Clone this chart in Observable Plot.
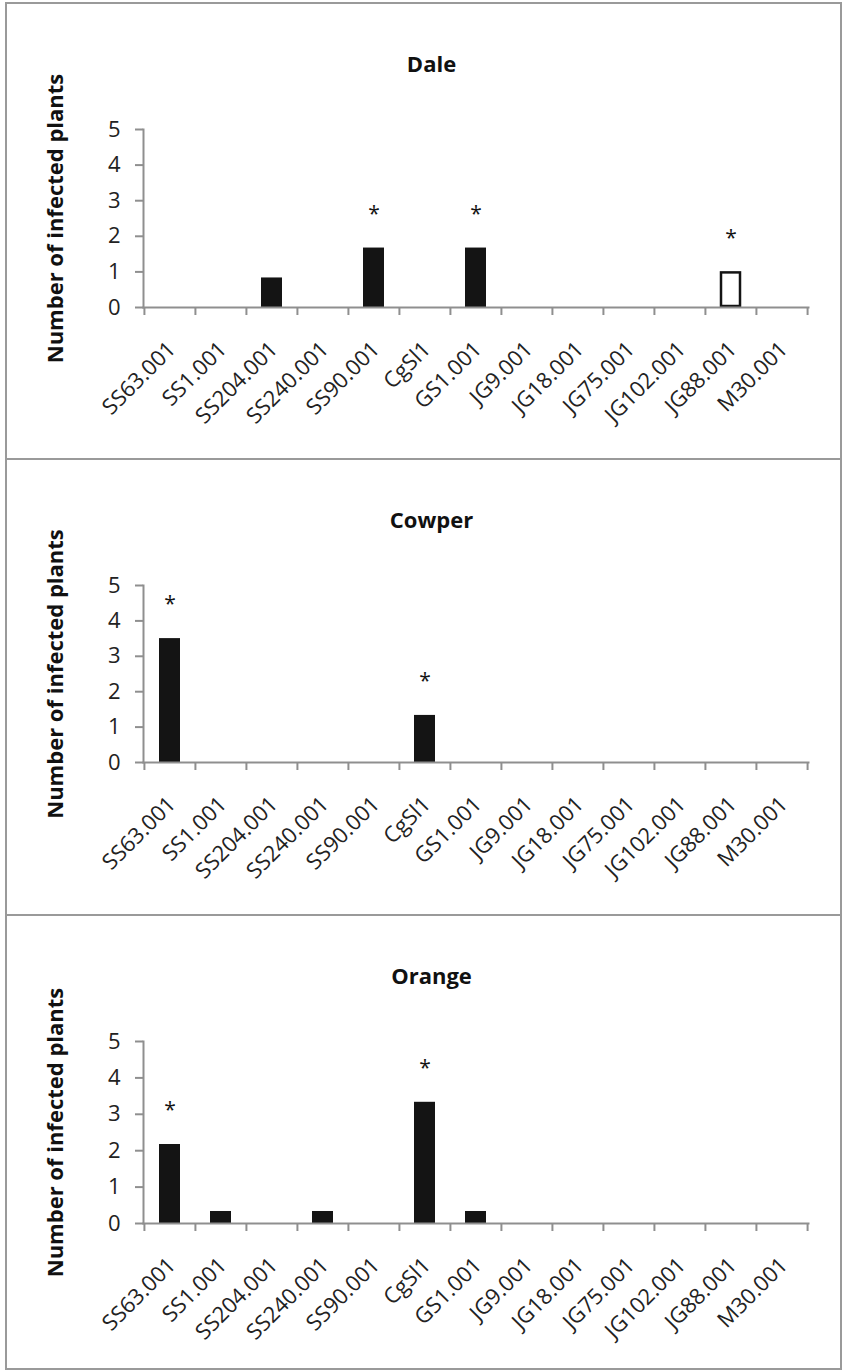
<!DOCTYPE html>
<html>
<head>
<meta charset="utf-8">
<script src="https://cdn.jsdelivr.net/npm/d3@7"></script>
<script src="https://cdn.jsdelivr.net/npm/@observablehq/plot@0.6"></script>
<style>
  html, body { margin: 0; padding: 0; background: #fff; }
  #outer { position: absolute; left: 5px; top: 2px; width: 833px; border: 2px solid #9a9a9a; background: #fff; }
  .panel { position: relative; height: 454px; border-bottom: 2px solid #9a9a9a; }
  .panel:last-child { border-bottom: none; height: 452px; }
  .title { position: absolute; left: 0; top: 44px; width: 100%; padding-left: 16px; box-sizing: border-box;
           text-align: center; font-family: "Open Sans", sans-serif; font-weight: bold; font-size: 22px; line-height: 30px; color: #111; }
  .panel svg { position: absolute; left: 0; top: 0; }
</style>
</head>
<body>
<div id="outer"></div>
<script>
// ---- data ----
const categories = ["SS63.001","SS1.001","SS204.001","SS240.001","SS90.001","CgSl1","GS1.001","JG9.001","JG18.001","JG75.001","JG102.001","JG88.001","M30.001"];
const yTicks = [0, 1, 2, 3, 4, 5];
const yLabel = "Number of infected plants";

const daleValues   = [0, 0, 0.83, 0, 1.67, 0, 1.67, 0, 0, 0, 0, 1, 0];
const daleStars    = ["SS90.001", "GS1.001", "JG88.001"];
const daleOpen     = ["JG88.001"];

const cowperValues = [3.5, 0, 0, 0, 0, 1.33, 0, 0, 0, 0, 0, 0, 0];
const cowperStars  = ["SS63.001", "CgSl1"];
const cowperOpen   = [];

const orangeValues = [2.17, 0.33, 0, 0.33, 0, 3.33, 0.33, 0, 0, 0, 0, 0, 0];
const orangeStars  = ["SS63.001", "CgSl1"];
const orangeOpen   = [];

const panels = [
  {title: "Dale",   values: daleValues,   stars: daleStars,   open: daleOpen,   height: 454, mB: 151},
  {title: "Cowper", values: cowperValues, stars: cowperStars, open: cowperOpen, height: 454, mB: 152},
  {title: "Orange", values: orangeValues, stars: orangeStars, open: orangeOpen, height: 452, mB: 145}
];

const GRAY = "#8f8f8f";
const INK = "#141414";

function makePlot(p) {
  const rows = categories.map((c, i) => ({cat: c, value: p.values[i], star: p.stars.includes(c), open: p.open.includes(c)}));
  const W = 833, mL = 136, mR = 32, mT = 125;
  const step = (W - mL - mR) / categories.length;
  return Plot.plot({
    width: W, height: p.height,
    marginLeft: mL, marginRight: mR, marginTop: mT, marginBottom: p.mB,
    style: {fontFamily: "'Open Sans', sans-serif", background: "transparent", color: "#222", overflow: "visible"},
    x: {domain: categories, paddingInner: 0.59, paddingOuter: 0.295, axis: null},
    y: {domain: [0, 5], axis: null},
    marks: [
      Plot.barY(rows.filter(d => d.value > 0 && !d.open), {x: "cat", y: "value", fill: INK}),
      Plot.barY(rows.filter(d => d.open), {x: "cat", y: "value", fill: "white", stroke: INK, strokeWidth: 2.5, inset: 1}),
      Plot.frame({anchor: "left", stroke: GRAY, strokeWidth: 2}),
      Plot.frame({anchor: "bottom", stroke: GRAY, strokeWidth: 2}),
      Plot.axisY({ticks: yTicks, tickSize: 8, tickPadding: 15, stroke: GRAY, strokeWidth: 2, fill: "#222", fontSize: 22, label: null, tickFormat: d => String(d)}),
      Plot.axisX({tickSize: 8, tickFormat: () => "", dx: -step / 2, stroke: GRAY, strokeWidth: 2, label: null}),
      Plot.axisX({ticks: [categories[categories.length - 1]], tickSize: 8, tickFormat: () => "", dx: step / 2, stroke: GRAY, strokeWidth: 2, label: null}),
      Plot.text(categories, {x: d => d, frameAnchor: "bottom", rotate: -45, textAnchor: "end", lineAnchor: "middle", dx: 2, dy: 38, fontSize: 22, fill: "#222"}),
      Plot.text(rows.filter(d => d.star), {x: "cat", y: "value", text: () => "*", dy: -34, fontSize: 21, fill: INK}),
      Plot.text([yLabel], {frameAnchor: "left", rotate: -90, textAnchor: "middle", lineAnchor: "middle", dx: -88, fontSize: 22, fontWeight: "bold", fill: "#111"})
    ]
  });
}

const outer = document.getElementById("outer");
for (const p of panels) {
  const div = document.createElement("div");
  div.className = "panel";
  const t = document.createElement("div");
  t.className = "title";
  t.textContent = p.title;
  div.appendChild(t);
  div.appendChild(makePlot(p));
  outer.appendChild(div);
}
</script>
</body>
</html>
